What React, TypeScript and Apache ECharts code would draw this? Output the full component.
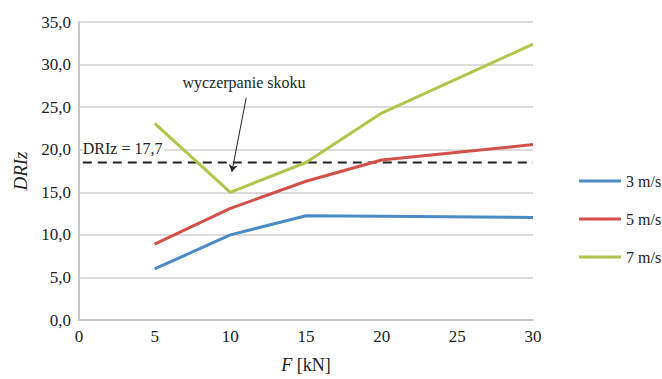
import React, { useEffect, useRef } from "react";
import * as echarts from "echarts";

const forces = [5, 10, 15, 20, 30];
const speed3 = [6.0, 10.0, 12.25, 12.2, 12.05];
const speed5 = [8.9, 13.1, 16.3, 18.8, 20.6];
const speed7 = [23.1, 15.0, 18.5, 24.3, 32.4];
const seriesNames = ["3 m/s", "5 m/s", "7 m/s"];
const seriesColors = ["#4a8bc6", "#d34f4a", "#b2c449"];
const limitValue = 18.5;
const limitLabel = "DRIz = 17,7";
const noteText = "wyczerpanie skoku";

const FONT = "Liberation Serif";

export default function App() {
  const ref = useRef<HTMLDivElement>(null);
  useEffect(() => {
    if (!ref.current) return;
    const chart = echarts.init(ref.current, null, { renderer: "svg" });
    const mk = (vals: number[]) => forces.map((f, i) => [f, vals[i]]);
    const allVals = [speed3, speed5, speed7];
    const series: any[] = allVals.map((vals, i) => ({
      name: seriesNames[i],
      type: "line",
      data: mk(vals),
      symbol: "none",
      lineStyle: { width: 3, color: seriesColors[i] },
      itemStyle: { color: seriesColors[i] },
      z: 3,
    }));
    series.push({
      name: "limit",
      type: "line",
      data: [
        [0.25, limitValue],
        [30, limitValue],
      ],
      symbol: "none",
      lineStyle: { width: 2, color: "#222", type: [9, 6] },
      z: 2,
      markPoint: {
        symbol: "circle",
        symbolSize: 0,
        data: [
          {
            coord: [0.25, 20.1],
            label: {
              show: true,
              position: "right",
              distance: 0,
              formatter: limitLabel,
              color: "#222",
              fontFamily: FONT,
              fontSize: 16,
              backgroundColor: "#fff",
              padding: [0, 2, 0, 0],
            },
          },
          {
            coord: [10.9, 27.9],
            label: {
              show: true,
              position: "inside",
              formatter: noteText,
              color: "#222",
              fontFamily: FONT,
              fontSize: 16,
            },
          },
        ],
      },
      markLine: {
        silent: true,
        symbol: ["none", "arrow"],
        symbolSize: 7,
        label: { show: false },
        lineStyle: { color: "#222", width: 1, type: "solid" },
        data: [
          [
            { coord: [11.05, 26.1] },
            { coord: [10.1, 17.4] },
          ],
        ],
      },
    });
    chart.setOption({
      animation: false,
      backgroundColor: "#fff",
      textStyle: { fontFamily: FONT },
      grid: { left: 79, right: 129, top: 22, bottom: 51 },
      legend: {
        data: seriesNames,
        orient: "vertical",
        left: 574,
        top: 168,
        icon: "rect",
        itemWidth: 42,
        itemHeight: 3,
        itemGap: 22,
        textStyle: { fontFamily: FONT, fontSize: 16, color: "#222" },
      },
      xAxis: {
        type: "value",
        min: 0,
        max: 30,
        interval: 5,
        name: "{i|F} [kN]",
        nameLocation: "middle",
        nameGap: 36,
        nameTextStyle: {
          fontFamily: FONT,
          fontSize: 18,
          color: "#222",
          rich: { i: { fontStyle: "italic", fontFamily: FONT, fontSize: 18, color: "#222" } },
        },
        axisLine: { show: true, lineStyle: { color: "#c8c8c8", width: 2 } },
        axisTick: { show: false },
        splitLine: { show: false },
        axisLabel: { fontFamily: FONT, fontSize: 17, color: "#222", margin: 8 },
      },
      yAxis: {
        type: "value",
        min: 0,
        max: 35,
        interval: 5,
        name: "DRIz",
        nameLocation: "middle",
        nameGap: 49,
        nameTextStyle: { fontFamily: FONT, fontSize: 19, fontStyle: "italic", color: "#222" },
        axisLine: { show: true, lineStyle: { color: "#c8c8c8", width: 2 } },
        axisTick: { show: false },
        splitLine: { show: true, lineStyle: { color: "#cfcfcf", width: 1.5 } },
        axisLabel: {
          fontFamily: FONT,
          fontSize: 17,
          color: "#222",
          margin: 8,
          formatter: (v: number) => v.toFixed(1).replace(".", ","),
        },
      },
      series,
    });
    return () => chart.dispose();
  }, []);
  return (
    <div
      ref={ref}
      style={{ position: "fixed", left: 0, top: 0, width: 662, height: 379 }}
    />
  );
}
